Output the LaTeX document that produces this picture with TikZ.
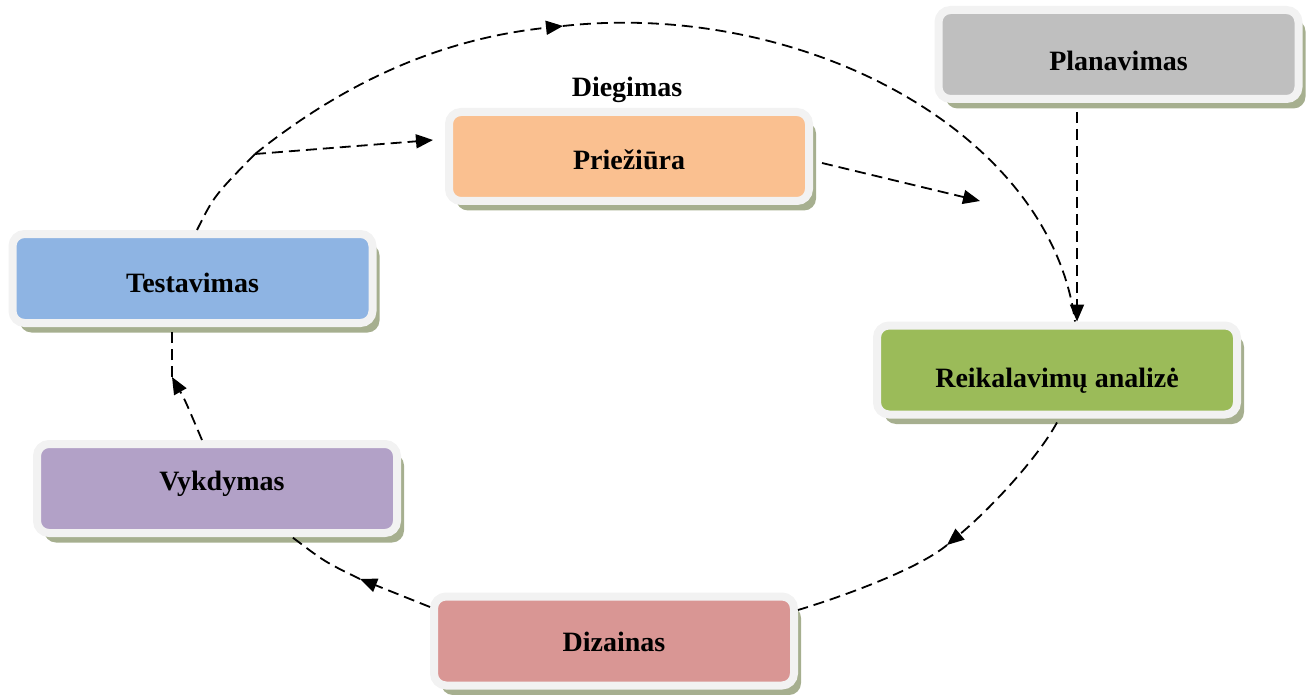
\documentclass[tikz,border=0pt]{standalone}
\usepackage{fontspec}
\setmainfont{Liberation Serif}
\usetikzlibrary{arrows.meta,shadows}

\definecolor{rim}{HTML}{F2F2F2}
\definecolor{shade}{HTML}{A6AF8F}
\definecolor{cPlan}{HTML}{BFBFBF}
\definecolor{cPrie}{HTML}{FAC090}
\definecolor{cTest}{HTML}{8EB4E3}
\definecolor{cReik}{HTML}{9BBB59}
\definecolor{cVykd}{HTML}{B2A1C7}
\definecolor{cDiz}{HTML}{D99694}

\begin{document}
\begin{tikzpicture}[x=1pt,y=-1pt,
  phase/.style={draw=rim, line width=8pt, rounded corners=12pt,
    minimum width=360pt, minimum height=89pt, inner sep=0pt,
    font=\bfseries\fontsize{28}{32}\selectfont,
    text height=19pt, text depth=0pt,
    drop shadow={shadow xshift=7pt, shadow yshift=-9.5pt, fill=shade, opacity=1}},
  caption/.style={font=\bfseries\fontsize{28}{32}\selectfont,
    text height=19pt, text depth=0pt, inner sep=0pt},
  flow/.style={line width=1.8pt, dash pattern=on 11pt off 6pt},
  tip/.style={-{Triangle[length=17pt,width=14pt]}}]

\useasboundingbox (0,0) rectangle (1314,695);

% phases of the cycle
\node[phase, fill=cPlan] (plan) at (1118.5,54.5) {\raisebox{-7pt}{Planavimas}};
\node[phase, fill=cPrie] (prie) at (629,156.5)   {\raisebox{-3.5pt}{Priežiūra}};
\node[phase, fill=cTest] (test) at (192.5,278.5) {\raisebox{-4.5pt}{Testavimas}};
\node[phase, fill=cReik] (reik) at (1057,370)    {\raisebox{-8pt}{Reikalavimų analizė}};
\node[phase, fill=cVykd] (vykd) at (217,488.5)   {\raisebox{8pt}{\hspace*{10pt}Vykdymas}};
\node[phase, fill=cDiz]  (diz)  at (614,641)     {\raisebox{-1pt}{Dizainas}};
\node[caption] (dieg) at (627,87.5) {Diegimas};

% bends and free ends of the connectors
\coordinate (k)    at (255,154);
\coordinate (top)  at (563,26);
\coordinate (ptip) at (433,140);
\coordinate (rtip) at (980,201);
\coordinate (rd)   at (947,545);
\coordinate (dv)   at (360,579);
\coordinate (vt)   at (172,377);

% deployment arc from testing over the top
\draw[flow] ([xshift=4.5pt]test.north) .. controls (214,196) .. (k);
\draw[flow,tip] (k) .. controls (335,90) and (430,40) .. (top);
\draw[flow] (top) .. controls (800,0) and (1050,130) .. ([xshift=18pt]reik.north);

% maintenance branch
\draw[flow,tip] (k) -- (ptip);
\draw[flow,tip] ([xshift=9pt,yshift=-6.5pt]prie.east) -- (rtip);

% planning into analysis
\draw[flow,tip] ([xshift=-41.5pt,yshift=-9pt]plan.south) -- ([xshift=20pt]reik.north);

% analysis -> design
\draw[flow,tip] ([yshift=-4pt]reik.south) .. controls (1037,459) and (990,509) .. (rd);
\draw[flow] (rd) .. controls (917,570) and (838,598) .. ([yshift=31pt]diz.east);

% design -> implementation
\draw[flow,tip] ([yshift=34pt]diz.west) -- (dv);
\draw[flow] (dv) .. controls (325,562) .. ([xshift=75pt]vykd.south);

% implementation -> testing
\draw[flow,tip] ([xshift=-15pt]vykd.north) .. controls (185,400) .. (vt);
\draw[flow] (vt) -- ([xshift=-20.5pt]test.south);

\end{tikzpicture}
\end{document}
